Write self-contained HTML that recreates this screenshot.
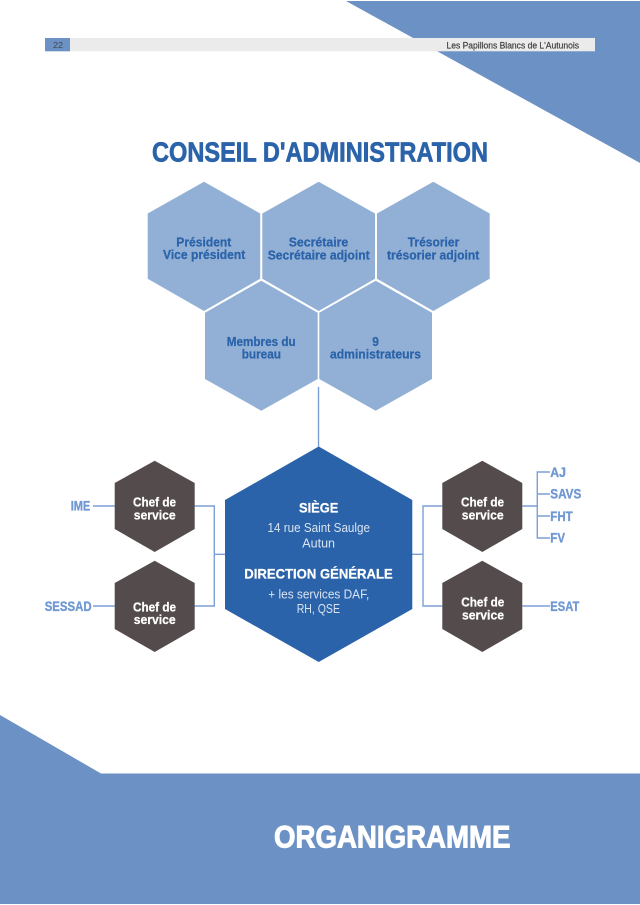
<!DOCTYPE html>
<html lang="fr">
<head>
<meta charset="utf-8">
<title>Organigramme</title>
<style>
html,body{margin:0;padding:0;background:#fff;width:640px;height:905px;overflow:hidden}
svg{display:block}
text{font-family:"Liberation Sans",sans-serif}
.b{font-weight:700}
.h{fill:#2b63aa;stroke:#2b63aa;stroke-width:.25px;font-weight:700;font-size:12.5px}
.w{fill:#fff;stroke:#fff;stroke-width:.25px;font-weight:700;font-size:13px}
.l{fill:#7098d3;stroke:#7098d3;stroke-width:.35px;font-weight:700;font-size:13.5px}
.c{fill:#d9e4f2;font-size:12.5px}
</style>
</head>
<body>
<svg width="640" height="905" viewBox="0 0 640 905" xmlns="http://www.w3.org/2000/svg">
<!-- Background shapes -->
<polygon points="346,1 640,1 640,163" fill="#6c91c4"/>
<polygon points="0,715 101,773.5 640,773.5 640,904 0,904" fill="#6c91c4"/>

<!-- Header bar -->
<rect x="45" y="38" width="550" height="13.3" fill="#ebebeb"/>
<rect x="45" y="38" width="25" height="13.3" fill="#6c91c4"/>
<text x="53" y="48.2" font-size="8.5" fill="#3f4650" textLength="10" lengthAdjust="spacingAndGlyphs">22</text>
<text x="446.5" y="48.3" font-size="9" fill="#3f3f3f" stroke="#3f3f3f" stroke-width=".2" textLength="132.5" lengthAdjust="spacingAndGlyphs">Les Papillons Blancs de L'Autunois</text>

<!-- Title -->
<text x="152" y="161.5" font-size="27.5" class="b" fill="#2b63aa" stroke="#2b63aa" stroke-width=".7" textLength="336" lengthAdjust="spacingAndGlyphs">CONSEIL D'ADMINISTRATION</text>

<!-- Connector lines -->
<g fill="none" stroke="#7c9fd8" stroke-width="1.4">
<path d="M318.5 387V447"/>
<path d="M93 506H115M93 606H115"/>
<path d="M194.7 506H214.3V606H194.7M214.3 554.3H225"/>
<path d="M412 554.3H423M442.3 506H423V606H442.3"/>
<path d="M522.3 506H537.3M550 472H537.3V538H550M537.3 494H550M537.3 516H550"/>
<path d="M522.3 606H550"/>
</g>

<!-- Light hexagons -->
<g fill="#92b0d5">
<polygon points="204,181.7 260.2,213.5 260.2,278.7 204,311 147.7,278.7 147.7,213.5"/>
<polygon points="318.7,181.7 375,213.5 375,278.7 318.7,311 262.3,278.7 262.3,213.5"/>
<polygon points="433.3,181.7 489.7,213.5 489.7,278.7 433.3,311 377,278.7 377,213.5"/>
<polygon points="261.3,280.7 317.7,312.7 317.7,379 261.3,410.7 205,379 205,312.7"/>
<polygon points="375.7,280.7 432,312.7 432,379 375.7,410.7 319.3,379 319.3,312.7"/>
</g>

<!-- Central hexagon -->
<polygon points="318.7,446.5 412.3,500 412.3,609 318.7,662 225,609 225,500" fill="#2b63aa"/>

<!-- Dark hexagons -->
<g fill="#544c4c">
<polygon points="154.7,460.7 194.7,483 194.7,529 154.7,552 114.7,529 114.7,483"/>
<polygon points="154.7,560.7 194.7,583 194.7,629 154.7,652 114.7,629 114.7,583"/>
<polygon points="482.3,460.7 522.3,483 522.3,529 482.3,552 442.3,529 442.3,483"/>
<polygon points="482.3,560.7 522.3,583 522.3,629 482.3,652 442.3,629 442.3,583"/>
</g>

<!-- Light hexagon labels -->
<text class="h" x="176.3" y="246.5" textLength="55" lengthAdjust="spacingAndGlyphs">Président</text>
<text class="h" x="163" y="259" textLength="82.3" lengthAdjust="spacingAndGlyphs">Vice président</text>
<text class="h" x="288.7" y="246.5" textLength="59.6" lengthAdjust="spacingAndGlyphs">Secrétaire</text>
<text class="h" x="267.7" y="259.5" textLength="102" lengthAdjust="spacingAndGlyphs">Secrétaire adjoint</text>
<text class="h" x="407.7" y="246.5" textLength="51.6" lengthAdjust="spacingAndGlyphs">Trésorier</text>
<text class="h" x="387" y="259.5" textLength="92.3" lengthAdjust="spacingAndGlyphs">trésorier adjoint</text>
<text class="h" x="226.7" y="346" textLength="69" lengthAdjust="spacingAndGlyphs">Membres du</text>
<text class="h" x="241.7" y="358.7" textLength="39.3" lengthAdjust="spacingAndGlyphs">bureau</text>
<text class="h" x="372.3" y="346" textLength="6.6" lengthAdjust="spacingAndGlyphs">9</text>
<text class="h" x="330" y="358.7" textLength="91" lengthAdjust="spacingAndGlyphs">administrateurs</text>

<!-- Dark hexagon labels -->
<text class="w" x="133" y="506.7" textLength="43" lengthAdjust="spacingAndGlyphs">Chef de</text>
<text class="w" x="133.7" y="519.5" textLength="42" lengthAdjust="spacingAndGlyphs">service</text>
<text class="w" x="133" y="611.3" textLength="43" lengthAdjust="spacingAndGlyphs">Chef de</text>
<text class="w" x="133.7" y="624" textLength="42" lengthAdjust="spacingAndGlyphs">service</text>
<text class="w" x="461" y="506.7" textLength="43" lengthAdjust="spacingAndGlyphs">Chef de</text>
<text class="w" x="461.7" y="519.5" textLength="42" lengthAdjust="spacingAndGlyphs">service</text>
<text class="w" x="461.3" y="606.3" textLength="43" lengthAdjust="spacingAndGlyphs">Chef de</text>
<text class="w" x="462" y="619.3" textLength="42" lengthAdjust="spacingAndGlyphs">service</text>

<!-- Outer labels -->
<text class="l" x="70.7" y="510.7" textLength="19.6" lengthAdjust="spacingAndGlyphs">IME</text>
<text class="l" x="44.7" y="611.2" textLength="47" lengthAdjust="spacingAndGlyphs">SESSAD</text>
<text class="l" x="550.3" y="477" textLength="15.7" lengthAdjust="spacingAndGlyphs">AJ</text>
<text class="l" x="550.3" y="498.7" textLength="31" lengthAdjust="spacingAndGlyphs">SAVS</text>
<text class="l" x="550.3" y="521" textLength="22.4" lengthAdjust="spacingAndGlyphs">FHT</text>
<text class="l" x="550.3" y="542.7" textLength="14.7" lengthAdjust="spacingAndGlyphs">FV</text>
<text class="l" x="550.3" y="611" textLength="29" lengthAdjust="spacingAndGlyphs">ESAT</text>

<!-- Central hexagon text -->
<text x="299" y="512.7" font-size="14" class="b" fill="#fff" stroke="#fff" stroke-width=".25" textLength="39.3" lengthAdjust="spacingAndGlyphs">SIÈGE</text>
<text class="c" x="267.5" y="532" textLength="102.5" lengthAdjust="spacingAndGlyphs">14 rue Saint Saulge</text>
<text class="c" x="302.3" y="547.3" textLength="32.7" lengthAdjust="spacingAndGlyphs">Autun</text>
<text x="244.3" y="578.7" font-size="14" class="b" fill="#fff" stroke="#fff" stroke-width=".25" textLength="148.4" lengthAdjust="spacingAndGlyphs">DIRECTION GÉNÉRALE</text>
<text class="c" x="268.3" y="598.7" textLength="101" lengthAdjust="spacingAndGlyphs">+ les services DAF,</text>
<text class="c" x="296.7" y="613.2" textLength="43.3" lengthAdjust="spacingAndGlyphs">RH, QSE</text>

<!-- Footer title -->
<text x="274" y="847.6" font-size="31.5" class="b" fill="#fff" stroke="#fff" stroke-width="1" textLength="236.5" lengthAdjust="spacingAndGlyphs">ORGANIGRAMME</text>
</svg>
</body>
</html>
